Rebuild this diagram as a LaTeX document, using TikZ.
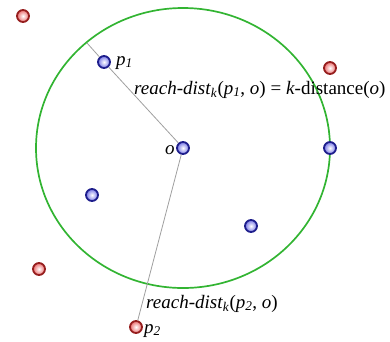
\documentclass[tikz,border=0pt]{standalone}
\usepackage{fontspec}
\setmainfont{Liberation Serif}
\begin{document}
\begin{tikzpicture}[x=1pt,y=-1pt,
  bluept/.style={circle,inner sep=0pt,minimum size=12pt,draw={rgb,255:red,30;green,30;blue,140},line width=1.8pt,inner color=white,outer color={rgb,255:red,120;green,120;blue,230}},
  redpt/.style={circle,inner sep=0pt,minimum size=12pt,draw={rgb,255:red,150;green,30;blue,30},line width=1.8pt,inner color=white,outer color={rgb,255:red,235;green,110;blue,110}},
  conn/.style={draw=gray!75,line width=0.8pt},
  lbl/.style={font=\fontsize{19}{21}\selectfont,inner sep=0pt,anchor=base west}]
\useasboundingbox (0,0) rectangle (390,341);
\definecolor{ringgreen}{RGB}{50,180,50}
\draw[ringgreen,line width=1.7pt] (183,148) ellipse [x radius=147, y radius=140];
\coordinate (e) at (87,43);
\node[bluept] (p1) at (104,62) {};
\node[bluept] (o) at (183,148) {};
\node[redpt] (p2) at (136,327) {};
\draw[conn] (e) -- (p1) -- (o);
\draw[conn] (o) -- (p2);
\node[bluept] (b1) at (330,148) {};
\node[bluept] (b2) at (92,195) {};
\node[bluept] (b3) at (251,226) {};
\node[redpt] (r1) at (23,16) {};
\node[redpt] (r2) at (330,68) {};
\node[redpt] (r3) at (39,269) {};
\node[lbl] (lp1) at (116,65) {\textit{p}\textsubscript{\textit{1}}};
\node[lbl] (lo) at (165,154) {\textit{o}};
\node[lbl] (lp2) at (144,333) {\textit{p}\textsubscript{\textit{2}}};
\node[lbl] (l1) at (134,94) {\textit{reach-dist}\textsubscript{\textit{k}}(\textit{p}\textsubscript{\textit{1}}, \textit{o}) = \textit{k}-distance(\textit{o})};
\node[lbl] (l2) at (146,308) {\textit{reach-dist}\textsubscript{\textit{k}}(\textit{p}\textsubscript{\textit{2}}, \textit{o})};
\end{tikzpicture}
\end{document}
